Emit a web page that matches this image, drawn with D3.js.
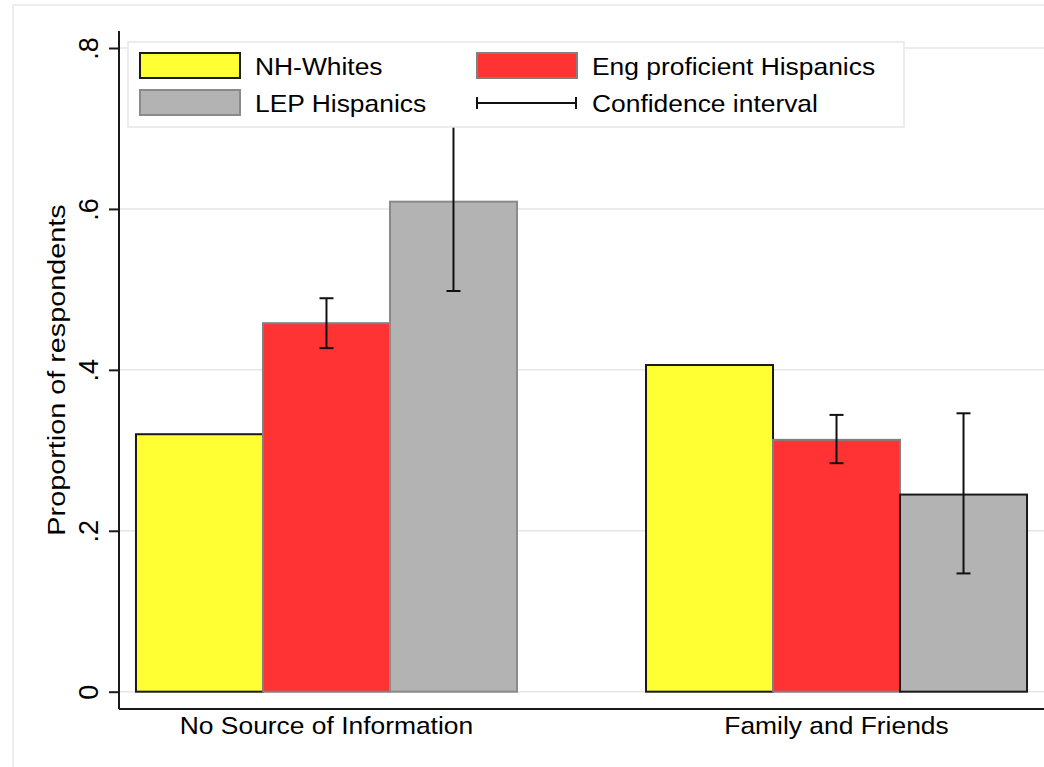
<!DOCTYPE html>
<html>
<head>
<meta charset="utf-8">
<script src="https://cdn.jsdelivr.net/npm/d3@7"></script>
<style>
    body { margin: 0; background: #fff; }
    svg { display: block; font-family: 'Liberation Sans', Arial, sans-serif; }
</style>
</head>
<body>
<div class="chart"></div>
<script>
var width = 1044
var height = 767

var categories = ['No Source of Information', 'Family and Friends']
var groups = ['NH-Whites', 'Eng proficient Hispanics', 'LEP Hispanics']
var nhWhites = [0.320, 0.406]
var engHispanics = [0.458, 0.313]
var engLow = [0.427, 0.284]
var engHigh = [0.489, 0.344]
var lepHispanics = [0.609, 0.245]
var lepLow = [0.498, 0.147]
var lepHigh = [0.720, 0.346]
var yTicks = [0, 0.2, 0.4, 0.6, 0.8]

var fills = { 'NH-Whites': '#ffff33', 'Eng proficient Hispanics': '#ff3333', 'LEP Hispanics': '#b3b3b3' }
var outlines = { 'NH-Whites': ['#1a1a1a', '#1a1a1a'], 'Eng proficient Hispanics': ['#808080', '#808080'], 'LEP Hispanics': ['#8a8a8a', '#1a1a1a'] }

var plot = { left: 119, right: 1044, top: 31, bottom: 709 }

function draw() {
    var svg = d3.select('.chart').append('svg')
        .attr('width', width)
        .attr('height', height)

    svg.append('rect')
        .attr('x', 13).attr('y', 5)
        .attr('width', width).attr('height', height)
        .attr('fill', 'none')
        .attr('stroke', '#e8e8e8')
        .attr('stroke-width', 1.5)

    var y = d3.scaleLinear().domain([0, 0.8]).range([691.7, 48])

    var x0 = d3.scaleBand().domain(categories)
        .range([plot.left, plot.right])
        .paddingInner(0.253)
        .paddingOuter(0.0333)

    var x1 = d3.scaleBand().domain(groups).range([0, x0.bandwidth()])

    var rows = []
    categories.forEach(function (c, i) {
        rows.push({ cat: c, i: i, group: groups[0], value: nhWhites[i] })
        rows.push({ cat: c, i: i, group: groups[1], value: engHispanics[i], lo: engLow[i], hi: engHigh[i] })
        rows.push({ cat: c, i: i, group: groups[2], value: lepHispanics[i], lo: lepLow[i], hi: lepHigh[i] })
    })

    // gridlines
    svg.append('g')
        .selectAll('line')
        .data(yTicks)
        .enter()
        .append('line')
        .attr('x1', plot.left).attr('x2', plot.right)
        .attr('y1', function (d) { return y(d) })
        .attr('y2', function (d) { return y(d) })
        .attr('stroke', '#e6e6e6')
        .attr('stroke-width', 1.5)

    // bars
    svg.append('g')
        .selectAll('rect')
        .data(rows)
        .enter()
        .append('rect')
        .attr('x', function (d) { return x0(d.cat) + x1(d.group) })
        .attr('y', function (d) { return y(d.value) })
        .attr('width', x1.bandwidth())
        .attr('height', function (d) { return y(0) - y(d.value) })
        .attr('fill', function (d) { return fills[d.group] })
        .attr('stroke', function (d) { return outlines[d.group][d.i] })
        .attr('stroke-width', 2)

    // confidence intervals
    var ci = svg.append('g')
        .selectAll('g')
        .data(rows.filter(function (d) { return d.lo != null }))
        .enter()
        .append('g')
        .attr('stroke', '#111')
        .attr('stroke-width', 2)

    ci.append('line')
        .attr('x1', function (d) { return x0(d.cat) + x1(d.group) + x1.bandwidth() / 2 })
        .attr('x2', function (d) { return x0(d.cat) + x1(d.group) + x1.bandwidth() / 2 })
        .attr('y1', function (d) { return y(d.lo) })
        .attr('y2', function (d) { return y(d.hi) })

    ci.selectAll('.cap')
        .data(function (d) { return [{ r: d, v: d.lo }, { r: d, v: d.hi }] })
        .enter()
        .append('line')
        .attr('class', 'cap')
        .attr('x1', function (d) { return x0(d.r.cat) + x1(d.r.group) + x1.bandwidth() / 2 - 7 })
        .attr('x2', function (d) { return x0(d.r.cat) + x1(d.r.group) + x1.bandwidth() / 2 + 7 })
        .attr('y1', function (d) { return y(d.v) })
        .attr('y2', function (d) { return y(d.v) })

    // y axis
    var yAxis = d3.axisLeft(y)
        .tickValues(yTicks)
        .tickSize(10)
        .tickFormat(function (d) { return d === 0 ? '0' : String(d).replace(/^0/, '') })

    var ga = svg.append('g')
        .attr('transform', 'translate(' + plot.left + ',0)')
        .call(yAxis)
    ga.select('.domain').remove()
    ga.selectAll('.tick line').attr('stroke', '#1a1a1a').attr('stroke-width', 2)
    ga.selectAll('.tick text')
        .attr('x', null).attr('dy', null)
        .attr('transform', 'translate(-21,0) rotate(-90)')
        .attr('text-anchor', 'middle')
        .attr('font-size', 27)
        .attr('font-family', "'Liberation Sans', Arial, sans-serif")
        .attr('fill', '#000')

    svg.append('line')
        .attr('x1', plot.left).attr('x2', plot.left)
        .attr('y1', plot.top).attr('y2', plot.bottom)
        .attr('stroke', '#1a1a1a').attr('stroke-width', 2)

    svg.append('line')
        .attr('x1', plot.left).attr('x2', plot.right)
        .attr('y1', plot.bottom).attr('y2', plot.bottom)
        .attr('stroke', '#1a1a1a').attr('stroke-width', 2)

    svg.append('text')
        .attr('transform', 'translate(65,' + ((plot.top + plot.bottom) / 2) + ') rotate(-90) scale(1.2,1)')
        .attr('text-anchor', 'middle')
        .attr('font-size', 24)
        .text('Proportion of respondents')

    // category labels
    svg.append('g')
        .selectAll('text')
        .data(categories)
        .enter()
        .append('text')
        .attr('transform', function (d) {
            return 'translate(' + (x0(d) + x0.bandwidth() / 2) + ',734) scale(1.1,1)'
        })
        .attr('text-anchor', 'middle')
        .attr('font-size', 24)
        .text(function (d) { return d })

    // legend
    var legend = svg.append('g')
    legend.append('rect')
        .attr('x', 128).attr('y', 42)
        .attr('width', 776).attr('height', 85)
        .attr('fill', '#fff')
        .attr('stroke', '#e6e6e6')
        .attr('stroke-width', 1.5)

    var items = [
        { name: groups[0], col: 0, row: 0 },
        { name: groups[1], col: 1, row: 0 },
        { name: groups[2], col: 0, row: 1 },
        { name: 'Confidence interval', col: 1, row: 1 }
    ]
    var colX = [140, 477]
    var rowY = [53, 90]

    items.forEach(function (it) {
        var lx = colX[it.col]
        var ly = rowY[it.row]
        if (fills[it.name]) {
            legend.append('rect')
                .attr('x', lx).attr('y', ly)
                .attr('width', 100).attr('height', 25)
                .attr('fill', fills[it.name])
                .attr('stroke', outlines[it.name][0])
                .attr('stroke-width', 2)
        } else {
            var g = legend.append('g').attr('stroke', '#111').attr('stroke-width', 2)
            g.append('line').attr('x1', lx).attr('x2', lx + 99).attr('y1', ly + 13).attr('y2', ly + 13)
            g.append('line').attr('x1', lx).attr('x2', lx).attr('y1', ly + 7).attr('y2', ly + 19)
            g.append('line').attr('x1', lx + 99).attr('x2', lx + 99).attr('y1', ly + 7).attr('y2', ly + 19)
        }
        legend.append('text')
            .attr('transform', 'translate(' + (lx + 115) + ',' + (ly + 22) + ') scale(1.1,1)')
            .attr('font-size', 24)
            .text(it.name)
    })
}

draw()
</script>
</body>
</html>
